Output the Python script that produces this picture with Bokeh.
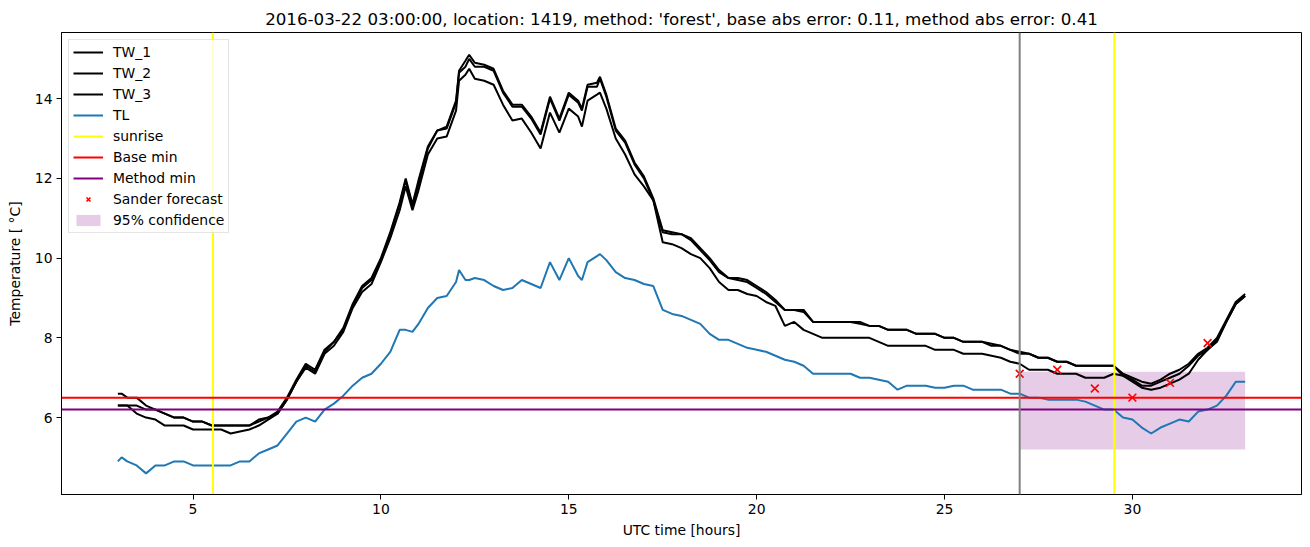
from bokeh.plotting import figure
from bokeh.models import Range1d, Legend, LegendItem, FixedTicker, Span
from bokeh.embed import file_html
from bokeh.resources import INLINE

# ---------------- data ----------------
hours = [3.0, 3.1, 3.25, 3.5, 3.75, 4.0, 4.25, 4.5, 4.75, 5.0, 5.25, 5.5, 5.75,
         6.0, 6.25, 6.5, 6.75, 7.0, 7.25, 7.5, 7.75, 8.0, 8.25, 8.5, 8.75,
         9.0, 9.25, 9.5, 9.75, 10.0, 10.25, 10.5, 10.66, 10.84, 11.0, 11.25, 11.5, 11.75,
         12.0, 12.08, 12.25, 12.35, 12.5, 12.75, 13.0, 13.25, 13.5, 13.75, 14.0, 14.25, 14.5, 14.75,
         15.0, 15.25, 15.35, 15.5, 15.75, 15.83, 16.0, 16.25, 16.5, 16.75, 17.0, 17.25, 17.5, 17.75,
         18.0, 18.25, 18.5, 18.75, 19.0, 19.25, 19.5, 19.75, 20.0, 20.25, 20.5, 20.75,
         21.0, 21.25, 21.5, 21.75, 22.0, 22.25, 22.5, 22.75, 23.0, 23.25, 23.5, 23.75,
         24.0, 24.25, 24.5, 24.75, 25.0, 25.25, 25.5, 25.75, 26.0, 26.25, 26.5, 26.75,
         27.0, 27.25, 27.5, 27.75, 28.0, 28.25, 28.5, 28.75, 29.0, 29.25, 29.5, 29.75,
         30.0, 30.25, 30.5, 30.75, 31.0, 31.25, 31.5, 31.75, 32.0, 32.25, 32.5, 32.75,
         33.0]

tw_1 = [6.6, 6.6, 6.5, 6.5, 6.3, 6.2, 6.1, 6.0, 6.0, 5.9, 5.9, 5.8, 5.8,
        5.8, 5.8, 5.8, 5.95, 6.0, 6.15, 6.5, 6.95, 7.35, 7.2, 7.7, 7.9,
        8.25, 8.85, 9.3, 9.5, 10.0, 10.65, 11.4, 12.0, 11.35, 11.95, 12.8, 13.2, 13.3,
        13.95, 14.7, 14.95, 15.1, 14.9, 14.85, 14.75, 14.2, 13.85, 13.85, 13.55, 13.15, 14.05, 13.5,
        14.15, 13.95, 13.75, 14.35, 14.4, 14.55, 14.1, 13.25, 12.95, 12.4, 12.05, 11.5, 10.7, 10.65,
        10.6, 10.5, 10.25, 10.0, 9.7, 9.5, 9.5, 9.45, 9.3, 9.15, 8.95, 8.7,
        8.7, 8.7, 8.4, 8.4, 8.4, 8.4, 8.4, 8.4, 8.3, 8.3, 8.2, 8.2,
        8.2, 8.1, 8.1, 8.1, 8.0, 8.0, 7.9, 7.9, 7.9, 7.85, 7.8, 7.7,
        7.65, 7.6, 7.5, 7.5, 7.4, 7.4, 7.3, 7.3, 7.3, 7.3, 7.3, 7.1,
        7.0, 6.9, 6.85, 6.95, 7.1, 7.2, 7.35, 7.6, 7.75, 8.0, 8.45, 8.9,
        9.1]

tw_2 = [6.3, 6.3, 6.3, 6.3, 6.2, 6.2, 6.1, 6.0, 6.0, 5.9, 5.9, 5.8, 5.8,
        5.8, 5.8, 5.8, 5.9, 6.0, 6.1, 6.45, 6.9, 7.3, 7.15, 7.65, 7.9,
        8.2, 8.8, 9.25, 9.45, 9.95, 10.6, 11.35, 11.95, 11.3, 11.85, 12.75, 13.2, 13.25,
        13.9, 14.65, 14.8, 15.0, 14.8, 14.8, 14.7, 14.15, 13.8, 13.8, 13.5, 13.1, 14.0, 13.45,
        14.1, 13.9, 13.7, 14.3, 14.3, 14.5, 14.05, 13.2, 12.9, 12.35, 12.0, 11.45, 10.65, 10.6,
        10.6, 10.45, 10.2, 9.95, 9.65, 9.5, 9.45, 9.4, 9.25, 9.1, 8.9, 8.7,
        8.7, 8.65, 8.4, 8.4, 8.4, 8.4, 8.4, 8.35, 8.3, 8.3, 8.2, 8.2,
        8.2, 8.1, 8.1, 8.1, 8.0, 8.0, 7.9, 7.9, 7.9, 7.8, 7.8, 7.7,
        7.6, 7.6, 7.5, 7.5, 7.4, 7.4, 7.3, 7.3, 7.3, 7.3, 7.3, 7.05,
        6.95, 6.8, 6.8, 6.9, 7.0, 7.1, 7.3, 7.55, 7.7, 7.95, 8.4, 8.85,
        9.05]

tw_3 = [6.3, 6.3, 6.3, 6.1, 6.0, 5.95, 5.8, 5.8, 5.8, 5.7, 5.7, 5.7, 5.7,
        5.6, 5.65, 5.7, 5.8, 5.95, 6.1, 6.45, 6.9, 7.25, 7.1, 7.6, 7.8,
        8.15, 8.75, 9.15, 9.35, 9.9, 10.5, 11.2, 11.8, 11.2, 11.7, 12.6, 13.0, 13.05,
        13.7, 14.45, 14.6, 14.75, 14.5, 14.45, 14.35, 13.85, 13.45, 13.5, 13.15, 12.75, 13.65, 13.15,
        13.75, 13.55, 13.3, 13.95, 14.1, 14.15, 13.75, 13.0, 12.6, 12.1, 11.8, 11.45, 10.4, 10.35,
        10.25, 10.1, 10.0, 9.75, 9.4, 9.2, 9.2, 9.1, 9.05, 8.9, 8.8, 8.3,
        8.4, 8.2, 8.1, 8.0, 8.0, 8.0, 8.0, 8.0, 8.0, 7.9, 7.8, 7.8,
        7.8, 7.8, 7.8, 7.7, 7.7, 7.7, 7.6, 7.6, 7.6, 7.55, 7.5, 7.4,
        7.35, 7.2, 7.2, 7.2, 7.1, 7.1, 7.1, 7.0, 7.0, 7.0, 7.1, 7.05,
        6.9, 6.75, 6.7, 6.75, 6.85, 6.95, 7.1, 7.45, 7.7, 7.9, 8.4, 8.85,
        9.05]

tl = [4.9, 5.0, 4.9, 4.8, 4.6, 4.8, 4.8, 4.9, 4.9, 4.8, 4.8, 4.8, 4.8,
      4.8, 4.9, 4.9, 5.1, 5.2, 5.3, 5.6, 5.9, 6.0, 5.9, 6.2, 6.35,
      6.55, 6.8, 7.0, 7.1, 7.35, 7.65, 8.2, 8.2, 8.15, 8.35, 8.75, 9.0, 9.05,
      9.4, 9.7, 9.45, 9.45, 9.5, 9.45, 9.3, 9.2, 9.25, 9.45, 9.35, 9.25, 9.9, 9.45,
      10.0, 9.55, 9.45, 9.9, 10.05, 10.1, 9.95, 9.65, 9.5, 9.45, 9.35, 9.3, 8.7, 8.6,
      8.55, 8.45, 8.35, 8.1, 7.95, 7.95, 7.85, 7.75, 7.7, 7.65, 7.55, 7.45,
      7.4, 7.3, 7.1, 7.1, 7.1, 7.1, 7.1, 7.0, 7.0, 6.95, 6.9, 6.7,
      6.8, 6.8, 6.8, 6.75, 6.75, 6.8, 6.8, 6.7, 6.7, 6.7, 6.7, 6.6,
      6.6, 6.5, 6.5, 6.45, 6.45, 6.45, 6.45, 6.4, 6.3, 6.2, 6.2, 6.0,
      5.95, 5.75, 5.6, 5.75, 5.85, 5.95, 5.9, 6.15, 6.2, 6.3, 6.55, 6.9,
      6.9]

sunrise_hours = [5.53, 29.52]
base_min = 6.5
method_min = 6.2
forecast_start = 27.0

forecast_hours = [27, 28, 29, 30, 31, 32]
forecast_values = [7.10, 7.20, 6.73, 6.50, 6.87, 7.87]

conf_hours = [27.0, 33.0]
conf_low = [5.2, 5.2]
conf_high = [7.15, 7.15]

x_ticks = [5, 10, 15, 20, 25, 30]
y_ticks = [6, 8, 10, 12, 14]

title = ("2016-03-22 03:00:00, location: 1419, method: 'forest', "
         "base abs error: 0.11, method abs error: 0.41")

assert len(hours) == len(tw_1) == len(tw_2) == len(tw_3) == len(tl)

# ---------------- figure ----------------
FONT = "DejaVu Sans"
x0, x1 = 1.5, 34.5
y0, y1 = 4.07, 15.66

p = figure(width=1310, height=547, output_backend="svg", toolbar_location=None,
           x_range=Range1d(x0, x1), y_range=Range1d(y0, y1),
           min_border_left=61, min_border_right=9, min_border_top=32,
           min_border_bottom=53, title=title)

p.title.align = "center"
p.title.text_font = FONT
p.title.text_font_size = "16.7px"
p.title.text_font_style = "normal"
p.title.text_color = "black"
p.title.standoff = 7

p.grid.visible = False
p.outline_line_color = "black"
p.outline_line_width = 1
p.outline_line_alpha = 1
p.background_fill_color = "white"
p.border_fill_color = "white"

for ax in (p.xaxis[0], p.yaxis[0]):
    ax.axis_line_color = "black"
    ax.axis_line_width = 1
    ax.major_tick_line_color = "black"
    ax.major_tick_in = 0
    ax.major_tick_out = 5
    ax.minor_tick_line_color = None
    ax.major_label_text_font = FONT
    ax.major_label_text_font_size = "13.9px"
    ax.major_label_text_color = "black"
    ax.axis_label_text_font = FONT
    ax.axis_label_text_font_size = "13.9px"
    ax.axis_label_text_font_style = "normal"
    ax.axis_label_text_color = "black"

p.xaxis.ticker = FixedTicker(ticks=x_ticks)
p.yaxis.ticker = FixedTicker(ticks=y_ticks)
p.xaxis.axis_label = "UTC time [hours]"
p.yaxis.axis_label = "Temperature [ °C]"
p.xaxis.major_label_standoff = 4
p.yaxis.major_label_standoff = 4
p.xaxis.axis_label_standoff = 5
p.yaxis.axis_label_standoff = 9

# confidence band (under the lines)
r_conf = p.varea(x=conf_hours, y1=conf_low, y2=conf_high,
                 fill_color="purple", fill_alpha=0.2)

r1 = p.line(hours, tw_1, line_color="black", line_width=2)
r2 = p.line(hours, tw_2, line_color="black", line_width=2)
r3 = p.line(hours, tw_3, line_color="black", line_width=2)
r_tl = p.line(hours, tl, line_color="#1f77b4", line_width=2)

r_sun = p.segment(x0=sunrise_hours, y0=[y0] * len(sunrise_hours),
                  x1=sunrise_hours, y1=[y1] * len(sunrise_hours),
                  line_color="yellow", line_width=2)
r_base = p.segment(x0=[x0], y0=[base_min], x1=[x1], y1=[base_min],
                   line_color="red", line_width=2)
r_meth = p.segment(x0=[x0], y0=[method_min], x1=[x1], y1=[method_min],
                   line_color="purple", line_width=2)

p.add_layout(Span(location=forecast_start, dimension="height",
                  line_color="gray", line_width=2))

r_fc = p.scatter(forecast_hours, forecast_values, marker="x", size=11,
                 line_color="red", line_width=1.6)

legend = Legend(items=[
    LegendItem(label="TW_1", renderers=[r1]),
    LegendItem(label="TW_2", renderers=[r2]),
    LegendItem(label="TW_3", renderers=[r3]),
    LegendItem(label="TL", renderers=[r_tl]),
    LegendItem(label="sunrise", renderers=[r_sun]),
    LegendItem(label="Base min", renderers=[r_base]),
    LegendItem(label="Method min", renderers=[r_meth]),
    LegendItem(label="Sander forecast", renderers=[r_fc]),
    LegendItem(label="95% confidence", renderers=[r_conf]),
], location="top_left")
legend.margin = 7
legend.padding = 4
legend.spacing = 5
legend.glyph_width = 30
legend.glyph_height = 14
legend.label_height = 14
legend.label_standoff = 10
legend.label_text_font = FONT
legend.label_text_font_size = "13.9px"
legend.label_text_color = "black"
legend.border_line_color = "#cccccc"
legend.border_line_width = 1
legend.background_fill_alpha = 0.8
p.add_layout(legend)

open("out.html", "w").write(file_html(p, INLINE))
